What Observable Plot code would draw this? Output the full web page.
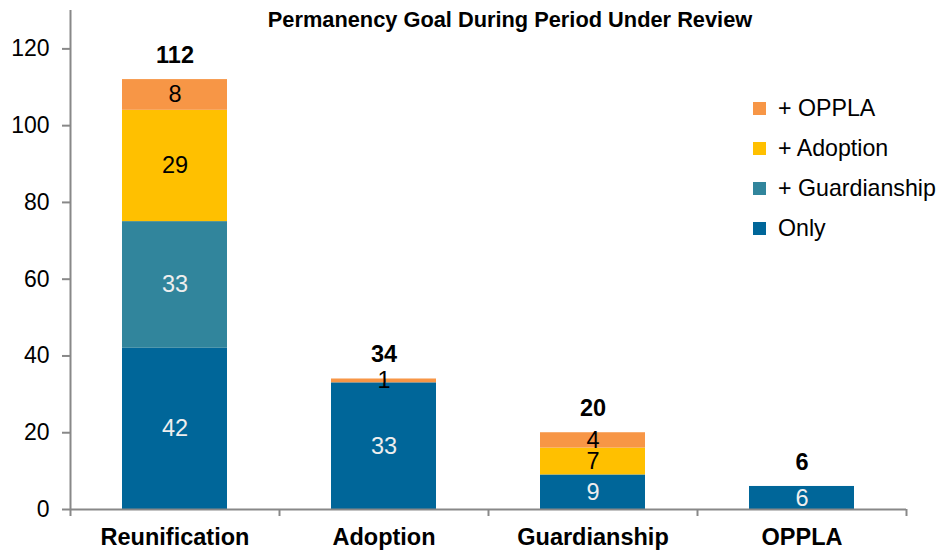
<!DOCTYPE html>
<html>
<head>
<meta charset="utf-8">
<script src="https://cdn.jsdelivr.net/npm/d3@7"></script>
<script src="https://cdn.jsdelivr.net/npm/@observablehq/plot@0.6"></script>
<style>
  body { margin: 0; background: #fff; font-family: "Liberation Sans", Arial, sans-serif; }
  #wrap { position: relative; width: 945px; height: 550px; }
  #title { position: absolute; left: 0; width: 1020px; top: 6px; line-height: 28px; text-align: center; font-weight: bold; font-size: 21.8px; color: #000; }
  #legend { position: absolute; left: 753px; top: 88px; font-size: 23.2px; color: #000; }
  #legend .row { display: flex; align-items: center; height: 40px; }
  #legend .sw { width: 13px; height: 13px; margin-right: 12px; }
</style>
</head>
<body>
<div id="wrap">
  <div id="chart"></div>
  <div id="title">Permanency Goal During Period Under Review</div>
  <div id="legend"></div>
</div>
<script>
const categories = ["Reunification", "Adoption", "Guardianship", "OPPLA"];
const seriesNames = ["Only", "+ Guardianship", "+ Adoption", "+ OPPLA"];
const seriesColors = ["#006699", "#31859C", "#FFC000", "#F79646"];
const labelColors = ["#eeeeee", "#eeeeee", "#000000", "#000000"];
const onlyValues = [42, 33, 9, 6];
const guardianshipValues = [33, 0, 0, 0];
const adoptionValues = [29, 0, 7, 0];
const opplaValues = [8, 1, 4, 0];
const yTicks = [0, 20, 40, 60, 80, 100, 120];

const seriesValues = [onlyValues, guardianshipValues, adoptionValues, opplaValues];
const rows = [];
seriesNames.forEach((s, si) => {
  categories.forEach((c, ci) => {
    rows.push({category: c, series: s, value: seriesValues[si][ci], labelColor: labelColors[si]});
  });
});
const totals = categories.map((c, ci) => ({
  category: c,
  total: seriesValues.reduce((a, v) => a + v[ci], 0)
}));

const W = 945, H = 550, mL = 70, mR = 39;
const step = (W - mL - mR) / categories.length;
const barW = 105;
const inset = (step - barW) / 2;
const FS = 23.5;

const chart = Plot.plot({
  width: W,
  height: H,
  marginLeft: mL,
  marginRight: mR,
  marginTop: 10,
  marginBottom: 41,
  style: {fontFamily: '"Liberation Sans", Arial, sans-serif', fontSize: FS + "px", color: "#000", background: "#fff"},
  x: {domain: categories, padding: 0, label: null},
  y: {domain: [0, 130], label: null},
  color: {domain: seriesNames, range: seriesColors},
  marks: [
    Plot.barY(rows, Plot.stackY({
      x: "category", y: "value", fill: "series", order: seriesNames,
      insetLeft: inset, insetRight: inset
    })),
    Plot.text(rows.filter(d => d.value > 0), Plot.stackY({
      x: "category", y: "value", z: "series", order: seriesNames,
      text: "value", fill: "labelColor", fontSize: FS
    })),
    Plot.text(totals, {x: "category", y: "total", text: "total", dy: -24.5, fontWeight: "bold", fontSize: FS, fill: "#000"}),
    Plot.ruleY([0], {stroke: "#888", strokeWidth: 2}),
    Plot.ruleX(categories, {x: d => d, dx: -step / 2, y1: 0, y2: 0, insetBottom: -7, stroke: "#888", strokeWidth: 2}),
    Plot.ruleX([categories[categories.length - 1]], {x: d => d, dx: step / 2, y1: 0, y2: 0, insetBottom: -7, stroke: "#888", strokeWidth: 2}),
    Plot.ruleX([categories[0]], {x: d => d, dx: -step / 2, y1: 0, y2: 130, stroke: "#888", strokeWidth: 2}),
    Plot.axisY({ticks: yTicks, tickSize: 8, tickPadding: 13, stroke: "#888", strokeWidth: 2, fill: "#000", fontSize: 23, label: null}),
    Plot.axisX({tickSize: 0, tickPadding: 19, fontSize: FS, fontWeight: "bold", fill: "#000", label: null})
  ]
});
document.getElementById("chart").appendChild(chart);

const legend = document.getElementById("legend");
for (let i = seriesNames.length - 1; i >= 0; i--) {
  const row = document.createElement("div");
  row.className = "row";
  const sw = document.createElement("div");
  sw.className = "sw";
  sw.style.background = seriesColors[i];
  const lab = document.createElement("span");
  lab.textContent = seriesNames[i];
  row.appendChild(sw);
  row.appendChild(lab);
  legend.appendChild(row);
}
</script>
</body>
</html>
